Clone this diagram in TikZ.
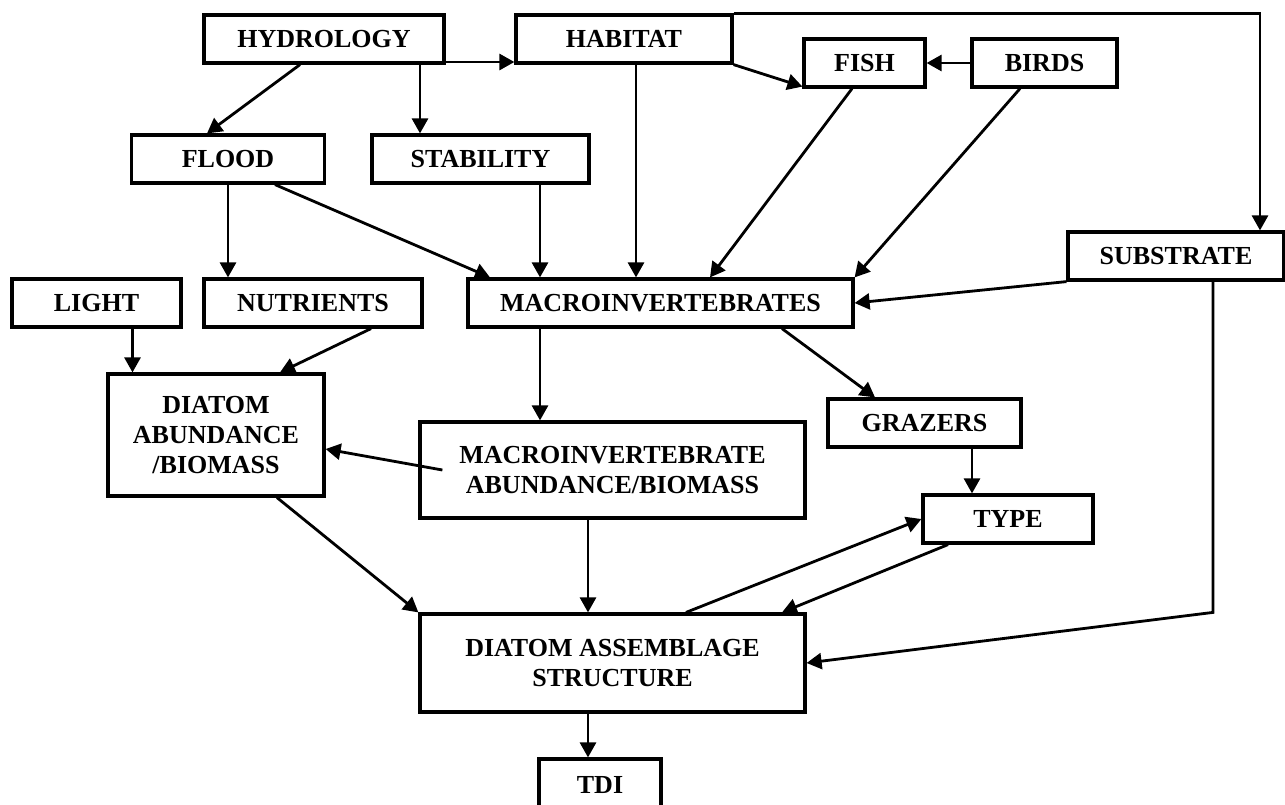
\documentclass[tikz,border=0pt]{standalone}
\usepackage{fontspec}
\setmainfont{Liberation Serif}
\usetikzlibrary{arrows.meta}

\begin{document}
\begin{tikzpicture}[x=1pt,y=-1pt,
  box/.style={draw, line width=3.2pt, inner sep=0pt, align=center,
    font=\fontsize{26}{30}\selectfont\bfseries},
  link/.style={line width=2.8pt, -{Triangle[length=15pt,width=16pt]}}]

  \useasboundingbox (0,0) rectangle (1285,804);

   \node[box, minimum width=240, minimum height=48] (hydrology) at (324,39) {HYDROLOGY};
    \node[box, minimum width=216, minimum height=48] (habitat) at (624,39) {HABITAT};
     \node[box, minimum width=121, minimum height=48] (fish) at (864.5,63) {FISH};
      \node[box, minimum width=145, minimum height=48] (birds) at (1044.5,63) {BIRDS};
       \node[box, minimum width=193, minimum height=48] (flood) at (228,159) {FLOOD};
        \node[box, minimum width=217, minimum height=48] (stability) at (480.5,159) {STABILITY};
         \node[box, minimum width=216, minimum height=48] (substrate) at (1176,256) {SUBSTRATE};
          \node[box, minimum width=169, minimum height=48] (light) at (96.5,303) {LIGHT};
           \node[box, minimum width=218, minimum height=48] (nutrients) at (313,303) {NUTRIENTS};
            \node[box, minimum width=385, minimum height=48] (macro) at (660.5,303) {MACROINVERTEBRATES};
             \node[box, minimum width=216, minimum height=122] (diatomab) at (216,435) {DIATOM\\ABUNDANCE\\/BIOMASS};
              \node[box, minimum width=385, minimum height=96] (macroab) at (612.5,470) {MACROINVERTEBRATE\\ABUNDANCE/BIOMASS};
               \node[box, minimum width=193, minimum height=48] (grazers) at (924.5,423) {GRAZERS};
                \node[box, minimum width=170, minimum height=48] (type) at (1008,519) {TYPE};
                 \node[box, minimum width=385, minimum height=98] (assemblage) at (612.5,663) {DIATOM ASSEMBLAGE\\STRUCTURE};
                  \node[box, minimum width=122, minimum height=52] (tdi) at (600,785) {TDI};

    \draw[link] ([xshift=-24]hydrology.south) -- ([xshift=-21]flood.north);
    \draw[link] ([yshift=-23]hydrology.east) -- ([yshift=-23]habitat.west);
    \draw[link] ([xshift=96]hydrology.south) -- ([xshift=96]hydrology.south |- stability.north);
    \draw[link] ([xshift=12]habitat.south) -- ([xshift=12]habitat.south |- macro.north);
    \draw[link] ([xshift=59.5]stability.south) -- ([xshift=59.5]stability.south |- macro.north);
    \draw[link] ([xshift=47]flood.south) -- ([xshift=-170.5]macro.north);
    \draw[link] (habitat.south east) -- ([yshift=2]fish.south west);
    \draw[link] (birds.west) -- (fish.east);
    \draw[link] ([xshift=-12.5]fish.south) -- ([xshift=49.5]macro.north);
    \draw[link] ([xshift=-24.5]birds.south) -- (macro.north east);
    \draw[link] (habitat.north east) -| ([xshift=84]substrate.north);
    \draw[link] (substrate.south west) -- (macro.east);
    \draw[link] ([xshift=37]substrate.south) -- ([xshift=37]substrate.south |- assemblage.north) -- (assemblage.east);

    \draw[link] (flood.south) -- (flood.south |- nutrients.north);
    \draw[link] ([xshift=36]light.south) -- ([xshift=36]light.south |- diatomab.north);
    \draw[link] ([xshift=58]nutrients.south) -- ([xshift=64]diatomab.north);
    \draw[link] ([xshift=-120.5]macro.south) -- ([xshift=-120.5]macro.south |- macroab.north);
    \draw[link] ([xshift=121.5]macro.south) -- ([xshift=-49.5]grazers.north);
    \draw[link] ([xshift=24]macroab.west) -- ([yshift=-14]diatomab.east);
    \draw[link] ([xshift=47.5]grazers.south) -- ([xshift=47.5]grazers.south |- type.north);

    \draw[link] ([xshift=61]diatomab.south) -- (assemblage.north west);
    \draw[link] ([xshift=-24.5]macroab.south) -- ([xshift=-24.5]macroab.south |- assemblage.north);
    \draw[link] ([xshift=73.5]assemblage.north) -- (type.west);
    \draw[link] ([xshift=-60]type.south) -- ([xshift=169.5]assemblage.north);
    \draw[link] ([xshift=-24.5]assemblage.south) -- ([xshift=-24.5]assemblage.south |- tdi.north);

\end{tikzpicture}
\end{document}
